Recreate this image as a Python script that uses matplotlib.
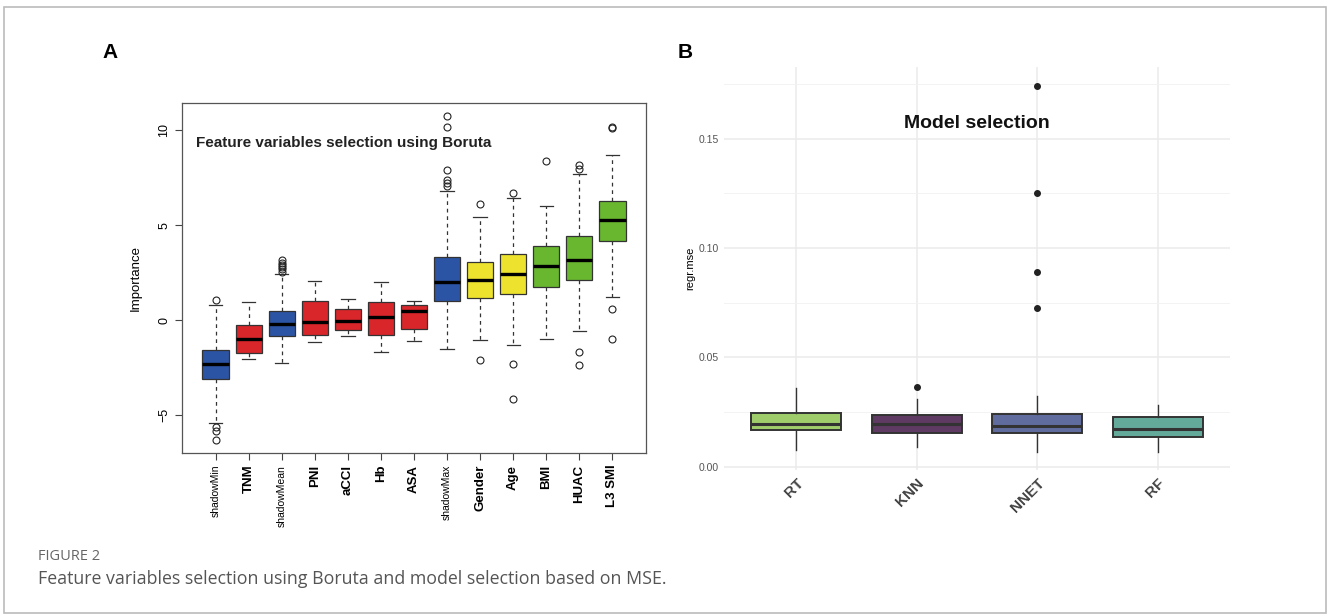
import numpy as np
import matplotlib
matplotlib.use('Agg')
import matplotlib.pyplot as plt
from matplotlib.patches import Rectangle

# ---- panel A data (Boruta importance) ----
feat_names = ['shadowMin', 'TNM', 'shadowMean', 'PNI', 'aCCI', 'Hb', 'ASA',
              'shadowMax', 'Gender', 'Age', 'BMI', 'HUAC', 'L3 SMI']
feat_q1 = [-3.09, -1.70, -0.84, -0.79, -0.53, -0.77, -0.46, 1.02, 1.19, 1.37, 1.75, 2.12, 4.16]
feat_med = [-2.30, -1.00, -0.19, -0.07, -0.02, 0.16, 0.49, 2.00, 2.10, 2.44, 2.86, 3.16, 5.25]
feat_q3 = [-1.54, -0.25, 0.51, 1.00, 0.58, 0.95, 0.82, 3.33, 3.05, 3.47, 3.89, 4.42, 6.25]
feat_lo = [-5.39, -2.04, -2.23, -1.14, -0.82, -1.68, -1.07, -1.53, -1.02, -1.32, -1.00, -0.58, 1.25]
feat_hi = [0.79, 0.98, 2.42, 2.07, 1.12, 2.02, 1.02, 6.79, 5.42, 6.42, 6.02, 7.67, 8.68]
feat_out = [[1.05, -5.6, -5.8, -6.3], [], [3.16, 3.03, 2.93, 2.81, 2.68, 2.54], [], [], [], [],
            [10.75, 10.18, 7.89, 7.40, 7.23, 7.05], [6.14, -2.07], [6.72, -2.32, -4.14],
            [8.37], [8.16, 7.98, -1.68, -2.33], [10.18, 10.09, 0.61, -1.00]]
feat_group = ['shadow', 'rej', 'shadow', 'rej', 'rej', 'rej', 'rej',
              'shadow', 'tent', 'tent', 'conf', 'conf', 'conf']
group_col = {'shadow': '#2B54A4', 'rej': '#D8262B', 'tent': '#EDE22E', 'conf': '#68B72F'}

# ---- panel B data (model MSE) ----
mod_names = ['RT', 'KNN', 'NNET', 'RF']
mod_q1 = [0.0168, 0.0155, 0.0155, 0.0137]
mod_med = [0.0195, 0.0195, 0.0186, 0.0171]
mod_q3 = [0.0244, 0.0235, 0.0242, 0.0226]
mod_lo = [0.0076, 0.0088, 0.0069, 0.0069]
mod_hi = [0.0358, 0.0311, 0.0325, 0.0280]
mod_out = [[], [0.0364], [0.174, 0.125, 0.0892, 0.0726], []]
mod_col = ['#9FCD6C', '#5F3A62', '#606C9E', '#63AA9B']

W, H = 1328, 614
fig = plt.figure(figsize=(W / 100, H / 100), dpi=100)

def px_axes(x0, y0, x1, y1):
    return fig.add_axes([x0 / W, 1 - y1 / H, (x1 - x0) / W, (y1 - y0) / H])

# outer frame
fig.patches.append(Rectangle((4 / W, 1 / H), 1322 / W, 606 / H, transform=fig.transFigure,
                             fill=False, edgecolor='#BBBBBB', linewidth=1.2))

# ---------------- panel A ----------------
ax = px_axes(182, 103, 646, 453)
stats = []
for i in range(len(feat_names)):
    stats.append(dict(med=feat_med[i], q1=feat_q1[i], q3=feat_q3[i],
                      whislo=feat_lo[i], whishi=feat_hi[i], fliers=feat_out[i]))
pos = np.arange(1, len(feat_names) + 1)
bp = ax.bxp(stats, positions=pos, widths=0.8, patch_artist=True,
            boxprops=dict(edgecolor='#333333', linewidth=0.9),
            medianprops=dict(color='black', linewidth=2.4),
            whiskerprops=dict(color='#333333', linewidth=0.9, linestyle=(0, (3, 3))),
            capprops=dict(color='#333333', linewidth=0.9),
            flierprops=dict(marker='o', markerfacecolor='none', markeredgecolor='#222222',
                            markersize=5, markeredgewidth=0.8))
for patch, g in zip(bp['boxes'], feat_group):
    patch.set_facecolor(group_col[g])
ax.set_xlim(-0.02, 14.02)
ax.set_ylim(-6.98, 11.43)
ax.set_yticks([-5, 0, 5, 10])
ax.set_yticklabels(['\u22125', '0', '5', '10'], rotation=90, va='center',
                   fontsize=9, family='Liberation Sans')
ax.set_xticks(pos)
ax.set_xticklabels(feat_names, rotation=90, family='Liberation Sans')
for lab, g in zip(ax.get_xticklabels(), feat_group):
    if g == 'shadow':
        lab.set_fontsize(7.5)
    else:
        lab.set_fontsize(9.5)
        lab.set_fontweight('bold')
ax.tick_params(direction='out', length=5, color='#444444', width=0.8)
for s in ax.spines.values():
    s.set_color('#555555')
    s.set_linewidth(0.9)
ax.set_ylabel('Importance', fontsize=9.5, family='Liberation Sans', labelpad=12)
ax.text(0.03, 0.885, 'Feature variables selection using Boruta', transform=ax.transAxes,
        fontsize=11, fontweight='bold', family='Liberation Sans', color='#222222', va='center')

# ---------------- panel B ----------------
bx = px_axes(724, 67, 1230, 470)
stats_b = []
for i in range(len(mod_names)):
    stats_b.append(dict(med=mod_med[i], q1=mod_q1[i], q3=mod_q3[i],
                        whislo=mod_lo[i], whishi=mod_hi[i], fliers=mod_out[i]))
posb = np.arange(1, len(mod_names) + 1)
bpb = bx.bxp(stats_b, positions=posb, widths=0.75, patch_artist=True, showcaps=False,
             boxprops=dict(edgecolor='#333333', linewidth=1.4),
             medianprops=dict(color='#333333', linewidth=2.2),
             whiskerprops=dict(color='#333333', linewidth=1.0),
             flierprops=dict(marker='o', markerfacecolor='#222222', markeredgecolor='#222222',
                             markersize=4))
for patch, c in zip(bpb['boxes'], mod_col):
    patch.set_facecolor(c)
bx.set_xlim(0.4, 4.6)
bx.set_ylim(-0.0015, 0.1828)
bx.set_yticks([0, 0.05, 0.10, 0.15])
bx.set_yticklabels(['0.00', '0.05', '0.10', '0.15'], fontsize=7.5, color='#555555',
                   family=['Liberation Sans Narrow', 'Liberation Sans'])
bx.set_yticks([0.025, 0.075, 0.125, 0.175], minor=True)
bx.set_xticks(posb)
bx.set_xticklabels(mod_names, rotation=45, ha='right', rotation_mode='anchor', fontsize=11,
                   fontweight='bold', color='#444444', family='Liberation Sans')
bx.tick_params(axis='both', which='both', length=0)
bx.tick_params(axis='x', pad=4)
bx.tick_params(axis='y', pad=4)
bx.grid(True, which='major', color='#EBEBEB', linewidth=1.1)
bx.grid(True, which='minor', axis='y', color='#F3F3F3', linewidth=0.7)
bx.set_axisbelow(True)
for s in bx.spines.values():
    s.set_visible(False)
bx.set_ylabel('regr.mse', fontsize=8, family='Liberation Sans', labelpad=2)
bx.text(0.5, 0.86, 'Model selection', transform=bx.transAxes, ha='center', va='center',
        fontsize=14, fontweight='bold', color='#111111', family='Liberation Sans')

# panel letters
fig.text(110 / W, 1 - 53 / H, 'A', fontsize=15, fontweight='bold', ha='center', va='center',
         family='Liberation Sans')
fig.text(685 / W, 1 - 53 / H, 'B', fontsize=15, fontweight='bold', ha='center', va='center',
         family='Liberation Sans')

# caption
fig.text(38 / W, 1 - 556 / H, 'FIGURE 2', fontsize=10.5, color='#666666', va='center',
         family='Open Sans')
fig.text(38 / W, 1 - 579 / H, 'Feature variables selection using Boruta and model selection based on MSE.',
         fontsize=12.8, color='#555555', va='center', family='Open Sans')

fig.savefig('out.png', dpi=100)
